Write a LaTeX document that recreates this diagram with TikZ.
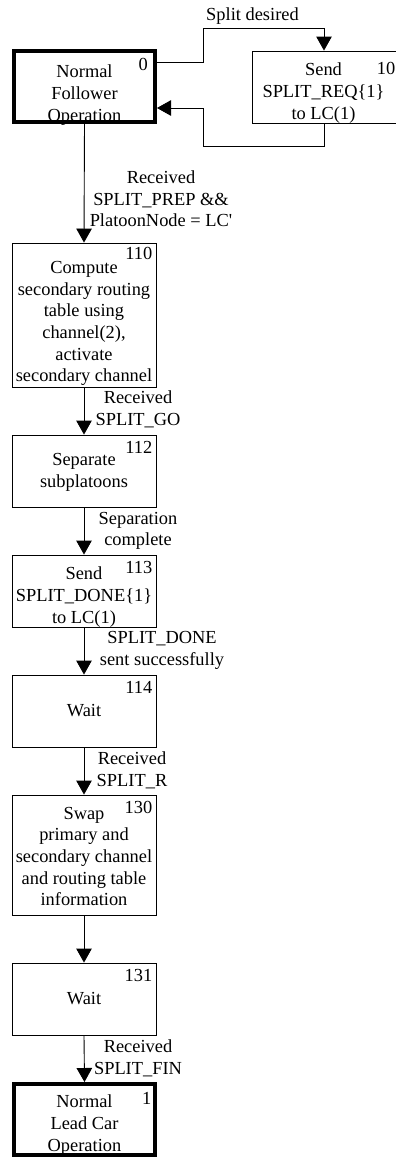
\documentclass[tikz,border=0pt]{standalone}
\usepackage{fontspec}
\setmainfont{Liberation Serif}
\usetikzlibrary{arrows.meta,calc}
\begin{document}
\begin{tikzpicture}[x=1bp,y=-1bp,
  font=\fontsize{18.4bp}{21.7bp}\selectfont,
  box/.style={draw, line width=0.9bp, minimum width=144bp, minimum height=72bp, inner sep=0pt},
  thickbox/.style={draw, line width=4bp, minimum width=141bp, minimum height=71bp, inner sep=0pt},
  txt/.style={inner sep=0pt, align=center},
  num/.style={inner sep=0pt, anchor=north east},
  lab/.style={inner sep=0pt, align=center},
  arr/.style={line width=0.9bp, -{Triangle[width=15.5bp,length=14bp]}}]
\useasboundingbox (0,0) rectangle (395,1157);
% boxes
\node[thickbox] (b0) at (84.5,86.5) {};
\node[box] (b10) at (324,87) {};
\node[box, minimum height=144bp] (b110) at (84,315) {};
\node[box] (b112) at (84,471) {};
\node[box] (b113) at (84,591) {};
\node[box] (b114) at (84,711) {};
\node[box, minimum height=120bp] (b130) at (84,855) {};
\node[box] (b131) at (84,999) {};
\node[thickbox] (b1) at (84.5,1119.5) {};
% box texts
\node[txt] (t0) at ($(b0)+(0,8.4)$) {Normal\\Follower\\Operation};
\node[txt] (t10) at ($(b10)+(-0.5,6)$) {Send\\SPLIT\_REQ\{1\}\\to LC(1)};
\node[txt] (t110) at ($(b110)+(0,8.6)$) {Compute\\secondary routing\\table using\\channel(2),\\activate\\secondary channel};
\node[txt] (t112) at ($(b112)+(0,1.5)$) {Separate\\subplatoons};
\node[txt] (t113) at ($(b113)+(0,6)$) {Send\\SPLIT\_DONE\{1\}\\to LC(1)};
\node[txt] (t114) at (b114) {Wait};
\node[txt] (t130) at ($(b130)+(0,1.5)$) {Swap\\primary and\\secondary channel\\and routing table\\information};
\node[txt] (t131) at (b131) {Wait};
\node[txt] (t1) at ($(b1)+(0,5.7)$) {Normal\\Lead Car\\Operation};
% state numbers
\node[num] (n0) at ($(b0.north east)+(-9,9)$) {0};
\node[num] (n10) at ($(b10.north east)+(-1,12)$) {10};
\node[num] (n110) at ($(b110.north east)+(-4,5)$) {110};
\node[num] (n112) at ($(b112.north east)+(-4,7)$) {112};
\node[num] (n113) at ($(b113.north east)+(-4,7)$) {113};
\node[num] (n114) at ($(b114.north east)+(-4,7)$) {114};
\node[num] (n130) at ($(b130.north east)+(-4,7)$) {130};
\node[num] (n131) at ($(b131.north east)+(-4,7)$) {131};
\node[num] (n1) at ($(b1.north east)+(-5.5,10)$) {1};
% connectors
\draw[arr] (b0.east |- 0,62) -| (203,28) -| (b10.north);
\draw[arr] (b10.south) |- (203,146) |- (b0.east |- 0,108);
\draw[arr] (b0.south) -- (b110.north);
\draw[arr] (b110.south) -- (b112.north);
\draw[arr] (b112.south) -- (b113.north);
\draw[arr] (b113.south) -- (b114.north);
\draw[arr] (b114.south) -- (b130.north);
\draw[arr] (b130.south) -- (b131.north);
\draw[arr] (b131.south) -- (b1.north);
% labels
\node[lab] (ls) at (252.5,16) {Split desired};
\node[lab] (l1) at (161,199) {Received\\SPLIT\_PREP \&\&\\PlatoonNode = LC\textquotesingle};
\node[lab] (l2) at (138,409.5) {Received\\SPLIT\_GO};
\node[lab] (l3) at (138,531) {Separation\\complete};
\node[lab] (l4) at (162,650.5) {SPLIT\_DONE\\sent successfully};
\node[lab] (l5) at (132,770) {Received\\SPLIT\_R};
\node[lab] (l6) at (138,1058) {Received\\SPLIT\_FIN};
\end{tikzpicture}
\end{document}
